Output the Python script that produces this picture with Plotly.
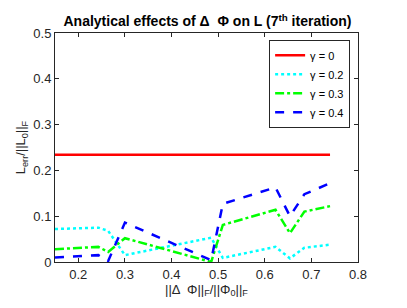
import plotly.graph_objects as go

x_vals = [0.15, 0.243, 0.264, 0.30, 0.485, 0.51, 0.623, 0.654, 0.685, 0.74]
red_y = [0.234] * len(x_vals)
cyan_y = [0.072, 0.075, 0.068, 0.015, 0.053, 0.009, 0.033, 0.008, 0.031, 0.038]
green_y = [0.028, 0.033, 0.022, 0.052, 0.0, 0.081, 0.114, 0.063, 0.110, 0.122]
blue_y = [0.010, 0.015, 0.002, 0.086, 0.004, 0.127, 0.163, 0.100, 0.148, 0.172]
names = ["γ = 0", "γ = 0.2", "γ = 0.3", "γ = 0.4"]
colors = ["#ff0000", "#00ffff", "#00ff00", "#0000ff"]
dashes = ["solid", "dot", "dashdot", "dash"]
x_ticks = [0.2, 0.3, 0.4, 0.5, 0.6, 0.7, 0.8]
y_ticks = [0, 0.1, 0.2, 0.3, 0.4, 0.5]

fig = go.Figure()
for ys, n, c, d in zip([red_y, cyan_y, green_y, blue_y], names, colors, dashes):
    fig.add_trace(go.Scatter(x=x_vals, y=ys, name=n, mode="lines",
                             line=dict(color=c, dash=d, width=2.5)))

axis_common = dict(showline=True, linecolor="#262626", linewidth=1, mirror="allticks",
                   ticks="inside", ticklen=4, tickcolor="#262626", showgrid=False,
                   zeroline=False, tickfont=dict(size=13, color="#262626"))
fig.update_layout(
    width=399, height=300,
    margin=dict(l=45, r=49, t=25, b=46),
    paper_bgcolor="white", plot_bgcolor="white",
    font=dict(family="Liberation Sans, Arial, sans-serif", color="#262626"),
    title=dict(text="<b>Analytical effects of Δ  Φ on L (7<sup>th</sup> iteration)</b>",
               x=0.5, xanchor="center", y=0.955, yanchor="middle",
               font=dict(size=14, color="black")),
    xaxis=dict(range=[0.15, 0.8], tickvals=x_ticks,
               title=dict(text="||Δ  Φ||<sub>F</sub>/||Φ<sub>0</sub>||<sub>F</sub>", font=dict(size=13), standoff=1),
               **axis_common),
    yaxis=dict(range=[0, 0.5], tickvals=y_ticks,
               title=dict(text="L<sub>err</sub>/||L<sub>0</sub>||<sub>F</sub>", font=dict(size=13), standoff=4),
               **axis_common),
    legend=dict(x=0.974, y=0.97, xanchor="right", yanchor="top", bgcolor="white",
                bordercolor="#262626", borderwidth=1, font=dict(size=11, color="black"),
                tracegroupgap=0, itemwidth=30),
    showlegend=True,
)
fig.write_html("out.html")
